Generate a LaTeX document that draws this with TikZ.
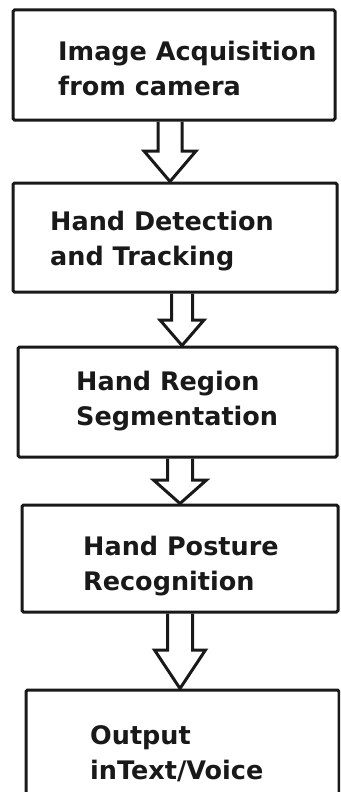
\documentclass[tikz,border=0pt]{standalone}
\usepackage{fontspec}
\setmainfont{DejaVu Sans}
\usepackage{tikz}
\usetikzlibrary{fit}
\tikzset{box/.style = {draw = mline, line width = 3, rounded corners = 1.5, inner sep = 0}}
\tikzset{steptext/.style = {anchor = base west, align = left, inner sep = 0, text = mline,
    font = \bfseries\fontsize{25.5}{35}\selectfont}}
\tikzset{hollow/.style = {draw = mline, line width = 3, line join = miter}}
\definecolor{mline}{rgb}{0.1, 0.1, 0.1}

\begin{document}
\begin{tikzpicture}[x = 1pt, y = -1pt]
    \clip (0, 0) rectangle (340, 792);
    \fill [white] (0, 0) rectangle (340, 792);

    % boxes, corners given top left / bottom right
    \foreach \n/\xa/\ya/\xb/\yb in {1/13/10/335/120, 2/13/183/337/292, 3/18/347/337/457,
                                    4/22/505/338/612, 5/26/690/339/800} {
      \node [box, fit = {(\xa, \ya) (\xb, \yb)}] (b\n) {};
    }

    % base is the baseline of the lower line
    \node [steptext] (t1) at (58, 95) {Image Acquisition\\from camera};
    \node [steptext] (t2) at (50, 265) {Hand Detection\\and Tracking};
    \node [steptext] (t3) at (76, 425) {Hand Region\\Segmentation};
    \node [steptext] (t4) at (83, 590) {Hand Posture\\Recognition};
    \node [steptext] (t5) at (90, 779) {Output\\inText/Voice};

    % hollow arrows: centre x, shaft and head half widths, head base y
    \foreach \a/\b/\x/\s/\h/\y in {1/2/170/12/26/151, 2/3/182/10.5/22/320,
                                   3/4/180/12.5/26.5/480, 4/5/180/12.5/25.5/650} {
      \draw [hollow] (b\a.south -| {\x - \s}, 0) -- ({\x - \s}, \y) -- ({\x - \h}, \y)
        -- (b\b.north -| \x, 0) -- ({\x + \h}, \y) -- ({\x + \s}, \y) -- (b\a.south -| {\x + \s}, 0);
    }
  \end{tikzpicture}
\end{document}
